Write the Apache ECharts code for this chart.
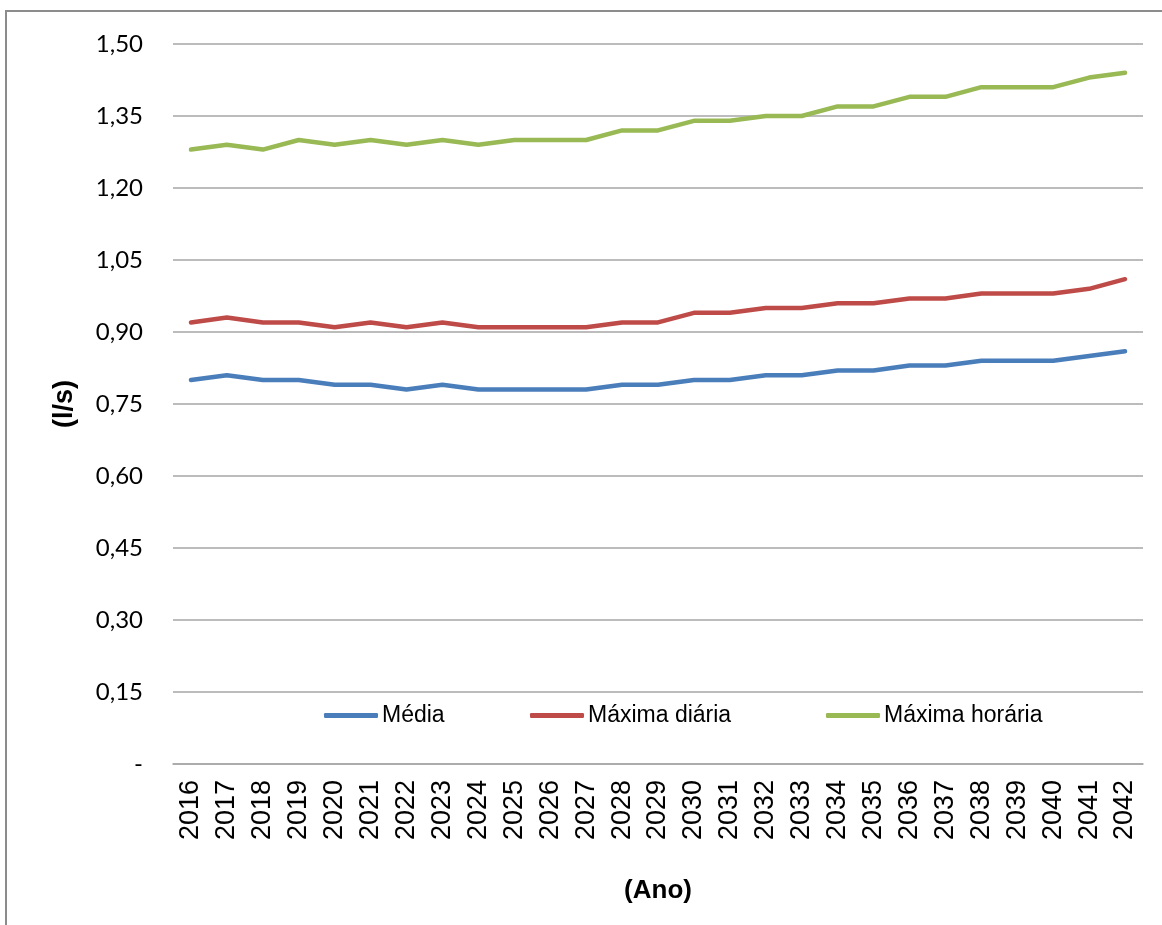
<!DOCTYPE html>
<html>
<head>
<meta charset="utf-8">
<script src="https://cdn.jsdelivr.net/npm/echarts@6/dist/echarts.min.js"></script>
<style>
  html, body { margin: 0; padding: 0; background: #fff; }
  #chart { width: 1162px; height: 925px; }
</style>
</head>
<body>
<div id="chart"></div>
<script>
// years on the x axis
const anos = ['2016', '2017', '2018', '2019', '2020', '2021', '2022', '2023', '2024',
  '2025', '2026', '2027', '2028', '2029', '2030', '2031', '2032', '2033', '2034',
  '2035', '2036', '2037', '2038', '2039', '2040', '2041', '2042'];

// flows in l/s
const media = [0.80, 0.81, 0.80, 0.80, 0.79, 0.79, 0.78, 0.79, 0.78, 0.78, 0.78, 0.78, 0.79, 0.79,
  0.80, 0.80, 0.81, 0.81, 0.82, 0.82, 0.83, 0.83, 0.84, 0.84, 0.84, 0.85, 0.86];
const maximaDiaria = [0.92, 0.93, 0.92, 0.92, 0.91, 0.92, 0.91, 0.92, 0.91, 0.91, 0.91, 0.91, 0.92, 0.92,
  0.94, 0.94, 0.95, 0.95, 0.96, 0.96, 0.97, 0.97, 0.98, 0.98, 0.98, 0.99, 1.01];
const maximaHoraria = [1.28, 1.29, 1.28, 1.30, 1.29, 1.30, 1.29, 1.30, 1.29, 1.30, 1.30, 1.30, 1.32, 1.32,
  1.34, 1.34, 1.35, 1.35, 1.37, 1.37, 1.39, 1.39, 1.41, 1.41, 1.41, 1.43, 1.44];

// y tick labels (Excel style, zero shown as "-")
const yTicks = ['-', '0,15', '0,30', '0,45', '0,60', '0,75', '0,90', '1,05', '1,20', '1,35', '1,50'];

const cores = ['#4A7EBB', '#BE4B48', '#98B954'];

const chart = echarts.init(document.getElementById('chart'));

const legendBase = {
  top: 699,
  icon: 'roundRect',
  itemWidth: 54,
  itemHeight: 5,
  itemGap: 4,
  textStyle: { fontFamily: 'Liberation Sans', fontSize: 23, color: '#000', padding: [0, 0, 0, -1] },
};

const option = {
  backgroundColor: '#fff',
  animation: false,
  color: cores,
  grid: { left: 173, right: 19, top: 44, bottom: 161 },
  legend: [
    { ...legendBase, left: 319, data: ['Média'] },
    { ...legendBase, left: 525, data: ['Máxima diária'] },
    { ...legendBase, left: 821, data: ['Máxima horária'] },
  ],
  graphic: [{
    type: 'rect',
    shape: { x: 6, y: 11, width: 1180, height: 950 },
    style: { fill: 'none', stroke: '#8c8c8c', lineWidth: 2 },
    silent: true,
  }],
  xAxis: {
    type: 'category',
    data: anos,
    boundaryGap: true,
    name: '(Ano)',
    nameLocation: 'middle',
    nameGap: 114,
    nameTextStyle: { fontFamily: 'Liberation Sans', fontWeight: 'bold', fontSize: 26, color: '#000' },
    axisLine: { show: true, lineStyle: { color: '#a6a6a6', width: 1.5 } },
    axisTick: { show: false },
    axisLabel: {
      rotate: 90,
      margin: 16,
      fontFamily: 'Liberation Sans',
      fontSize: 27,
      color: '#000',
    },
  },
  yAxis: {
    type: 'value',
    min: 0,
    max: 1.5,
    interval: 0.15,
    name: '(l/s)',
    nameLocation: 'middle',
    nameGap: 95,
    nameRotate: 90,
    nameTextStyle: { fontFamily: 'Liberation Sans', fontWeight: 'bold', fontSize: 27, color: '#000' },
    axisLine: { show: false },
    axisTick: { show: false },
    axisLabel: {
      margin: 30,
      fontFamily: 'Lato',
      fontSize: 24,
      color: '#000',
      formatter: (v) => yTicks[Math.round(v / 0.15)],
    },
    splitLine: { show: true, lineStyle: { color: '#a6a6a6', width: 1.5 } },
  },
  series: [
    { name: 'Média', type: 'line', data: media },
    { name: 'Máxima diária', type: 'line', data: maximaDiaria },
    { name: 'Máxima horária', type: 'line', data: maximaHoraria },
  ].map((s, i) => ({
    ...s,
    showSymbol: false,
    symbol: 'none',
    lineStyle: { width: 4.5, color: cores[i], cap: 'round', join: 'round' },
    itemStyle: { color: cores[i] },
  })),
};

chart.setOption(option);
</script>
</body>
</html>
